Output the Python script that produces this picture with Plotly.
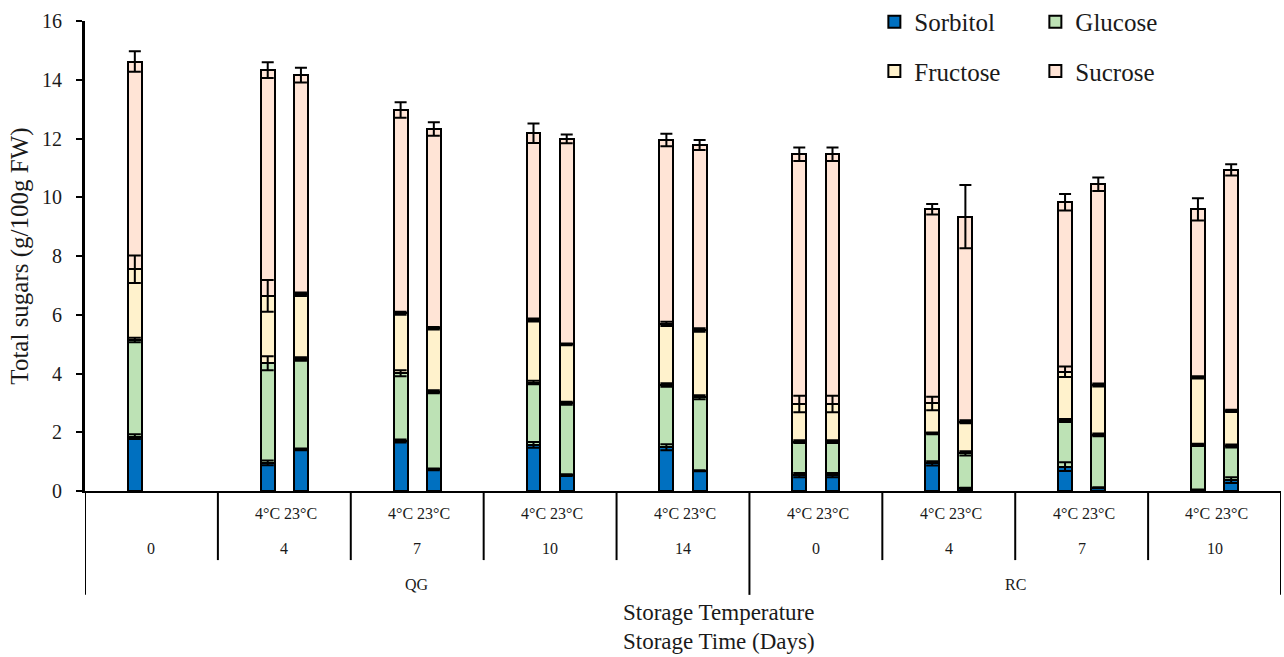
import numpy as np
import plotly.graph_objects as go

# ---------------- data ----------------
cultivars = ["QG", "RC"]
days = ["0", "4", "7", "10", "14", "0", "4", "7", "10"]
day_cultivar = ["QG", "QG", "QG", "QG", "QG", "RC", "RC", "RC", "RC"]
temps = ["4°C", "23°C"]

# one entry per bar: day-group index and temperature label ("" for the single day-0 QG bar)
bar_group = [0, 1, 1, 2, 2, 3, 3, 4, 4, 5, 5, 6, 6, 7, 7, 8, 8]
bar_temp = ["", "4°C", "23°C", "4°C", "23°C", "4°C", "23°C", "4°C", "23°C",
            "4°C", "23°C", "4°C", "23°C", "4°C", "23°C", "4°C", "23°C"]

sorbitol = [1.85, 0.96, 1.42, 1.70, 0.74, 1.57, 0.54, 1.49, 0.69, 0.54, 0.54, 0.94, 0.09, 0.83, 0.11, 0.03, 0.37]
glucose = [3.29, 3.39, 3.07, 2.31, 2.64, 2.12, 2.45, 2.12, 2.50, 1.14, 1.14, 1.02, 1.19, 1.57, 1.80, 1.54, 1.16]
fructose = [2.41, 2.29, 2.21, 2.04, 2.16, 2.13, 2.00, 2.08, 2.29, 1.28, 1.28, 1.02, 1.08, 1.66, 1.70, 2.30, 1.20]
sucrose = [7.07, 7.69, 7.46, 6.92, 6.78, 6.36, 7.00, 6.26, 6.30, 8.50, 8.50, 6.61, 6.98, 5.77, 6.83, 5.72, 8.20]

sorbitol_err = [0.08, 0.08, 0.03, 0.05, 0.03, 0.10, 0.03, 0.10, 0.02, 0.07, 0.07, 0.07, 0.02, 0.15, 0.02, 0.02, 0.10]
glucose_err = [0.08, 0.24, 0.06, 0.10, 0.05, 0.06, 0.05, 0.06, 0.07, 0.05, 0.05, 0.03, 0.07, 0.05, 0.05, 0.04, 0.05]
fructose_err = [0.47, 0.54, 0.06, 0.05, 0.04, 0.05, 0.03, 0.07, 0.06, 0.28, 0.28, 0.23, 0.05, 0.18, 0.05, 0.04, 0.04]
sucrose_err = [0.35, 0.27, 0.25, 0.26, 0.23, 0.33, 0.15, 0.21, 0.17, 0.23, 0.23, 0.18, 1.08, 0.28, 0.23, 0.38, 0.19]

series_names = ["Sorbitol", "Glucose", "Fructose", "Sucrose"]
series_vals = [sorbitol, glucose, fructose, sucrose]
series_errs = [sorbitol_err, glucose_err, fructose_err, sucrose_err]
series_colors = ["#0070C0", "#BDE2B5", "#FFF2CC", "#FFE4D6"]

y_ticks = [0, 2, 4, 6, 8, 10, 12, 14, 16]

# ---------------- layout helpers ----------------
FONT = "Liberation Serif"
TXT = "#1a1a1a"
offset = 0.125
slot = {"": -1, "4°C": -1, "23°C": 1}
x_pos = np.array([g + offset * slot[t] for g, t in zip(bar_group, bar_temp)])

fig = go.Figure()

legend_of = {"Sorbitol": "legend", "Glucose": "legend", "Fructose": "legend2", "Sucrose": "legend2"}
for name, vals, col in zip(series_names, series_vals, series_colors):
    fig.add_trace(go.Bar(
        x=x_pos, y=vals, name=name, width=0.105,
        marker=dict(color=col, line=dict(color="black", width=2)),
        legend=legend_of[name],
    ))

# error bars drawn on top of the stack at each segment's cumulative top
cum = np.zeros(len(sorbitol))
for name, vals, errs in zip(series_names, series_vals, series_errs):
    cum = cum + np.array(vals)
    fig.add_trace(go.Scatter(
        x=x_pos, y=cum, mode="markers", marker=dict(opacity=0, size=1),
        error_y=dict(type="data", array=errs, visible=True, color="black", thickness=2, width=6),
        showlegend=False, hoverinfo="skip",
    ))

shapes = []
annotations = []
n_groups = len(days)
y_day_line = -0.147
y_cult_line = -0.221
# vertical separators
for b in range(n_groups + 1):
    xb = b - 0.5
    long = (b == 0) or (b == n_groups) or (day_cultivar[b - 1] != day_cultivar[min(b, n_groups - 1)])
    shapes.append(dict(type="line", xref="x", yref="paper", x0=xb, x1=xb, y0=0,
                       y1=y_cult_line if long else y_day_line,
                       line=dict(color="black", width=2)))
# temperature labels
for xp, t in zip(x_pos, bar_temp):
    if t:
        annotations.append(dict(x=xp, y=-0.047, xref="x", yref="paper", text=t, showarrow=False,
                                font=dict(family=FONT, size=16, color=TXT), xanchor="center", yanchor="middle"))
# day labels
for g, d in enumerate(days):
    annotations.append(dict(x=g, y=-0.123, xref="x", yref="paper", text=d, showarrow=False,
                            font=dict(family=FONT, size=16, color=TXT), xanchor="center", yanchor="middle"))
# cultivar labels
for c in cultivars:
    idx = [i for i, dc in enumerate(day_cultivar) if dc == c]
    annotations.append(dict(x=(min(idx) + max(idx)) / 2, y=-0.198, xref="x", yref="paper", text=c,
                            showarrow=False, font=dict(family=FONT, size=16, color=TXT),
                            xanchor="center", yanchor="middle"))
# axis titles (x)
annotations.append(dict(x=0.530, y=-0.258, xref="paper", yref="paper", text="Storage Temperature",
                        showarrow=False, font=dict(family=FONT, size=23, color=TXT),
                        xanchor="center", yanchor="middle"))
annotations.append(dict(x=0.530, y=-0.320, xref="paper", yref="paper", text="Storage Time (Days)",
                        showarrow=False, font=dict(family=FONT, size=23, color=TXT),
                        xanchor="center", yanchor="middle"))

fig.update_layout(
    width=1284, height=657,
    margin=dict(l=85, r=3, t=21, b=166, autoexpand=False),
    paper_bgcolor="white", plot_bgcolor="white",
    barmode="stack",
    font=dict(family=FONT, color=TXT),
    shapes=shapes, annotations=annotations,
    legend=dict(orientation="h", x=0.660, y=0.998, xanchor="left", yanchor="middle",
                entrywidth=116, font=dict(family=FONT, size=25, color=TXT),
                bgcolor="rgba(0,0,0,0)", traceorder="normal"),
    legend2=dict(orientation="h", x=0.660, y=0.893, xanchor="left", yanchor="middle",
                 entrywidth=116, font=dict(family=FONT, size=25, color=TXT),
                 bgcolor="rgba(0,0,0,0)", traceorder="normal"),
    xaxis=dict(range=[-0.5, n_groups - 0.5], showline=True, linecolor="black", linewidth=2,
               showticklabels=False, ticks="", showgrid=False, zeroline=False, fixedrange=True,
               automargin=False),
    yaxis=dict(range=[0, 16], tickvals=y_ticks, showline=True, linecolor="black", linewidth=3,
               ticks="outside", ticklen=6, tickwidth=2, tickcolor="black", showgrid=False,
               zeroline=False, tickfont=dict(family=FONT, size=20, color=TXT),
               ticklabelstandoff=10, automargin=False,
               title=dict(text="Total sugars (g/100g FW)", font=dict(family=FONT, size=25, color=TXT),
                          standoff=7)),
)

fig.write_html("out.html", config={"displayModeBar": False},
               post_script="document.body.style.margin='0';")
